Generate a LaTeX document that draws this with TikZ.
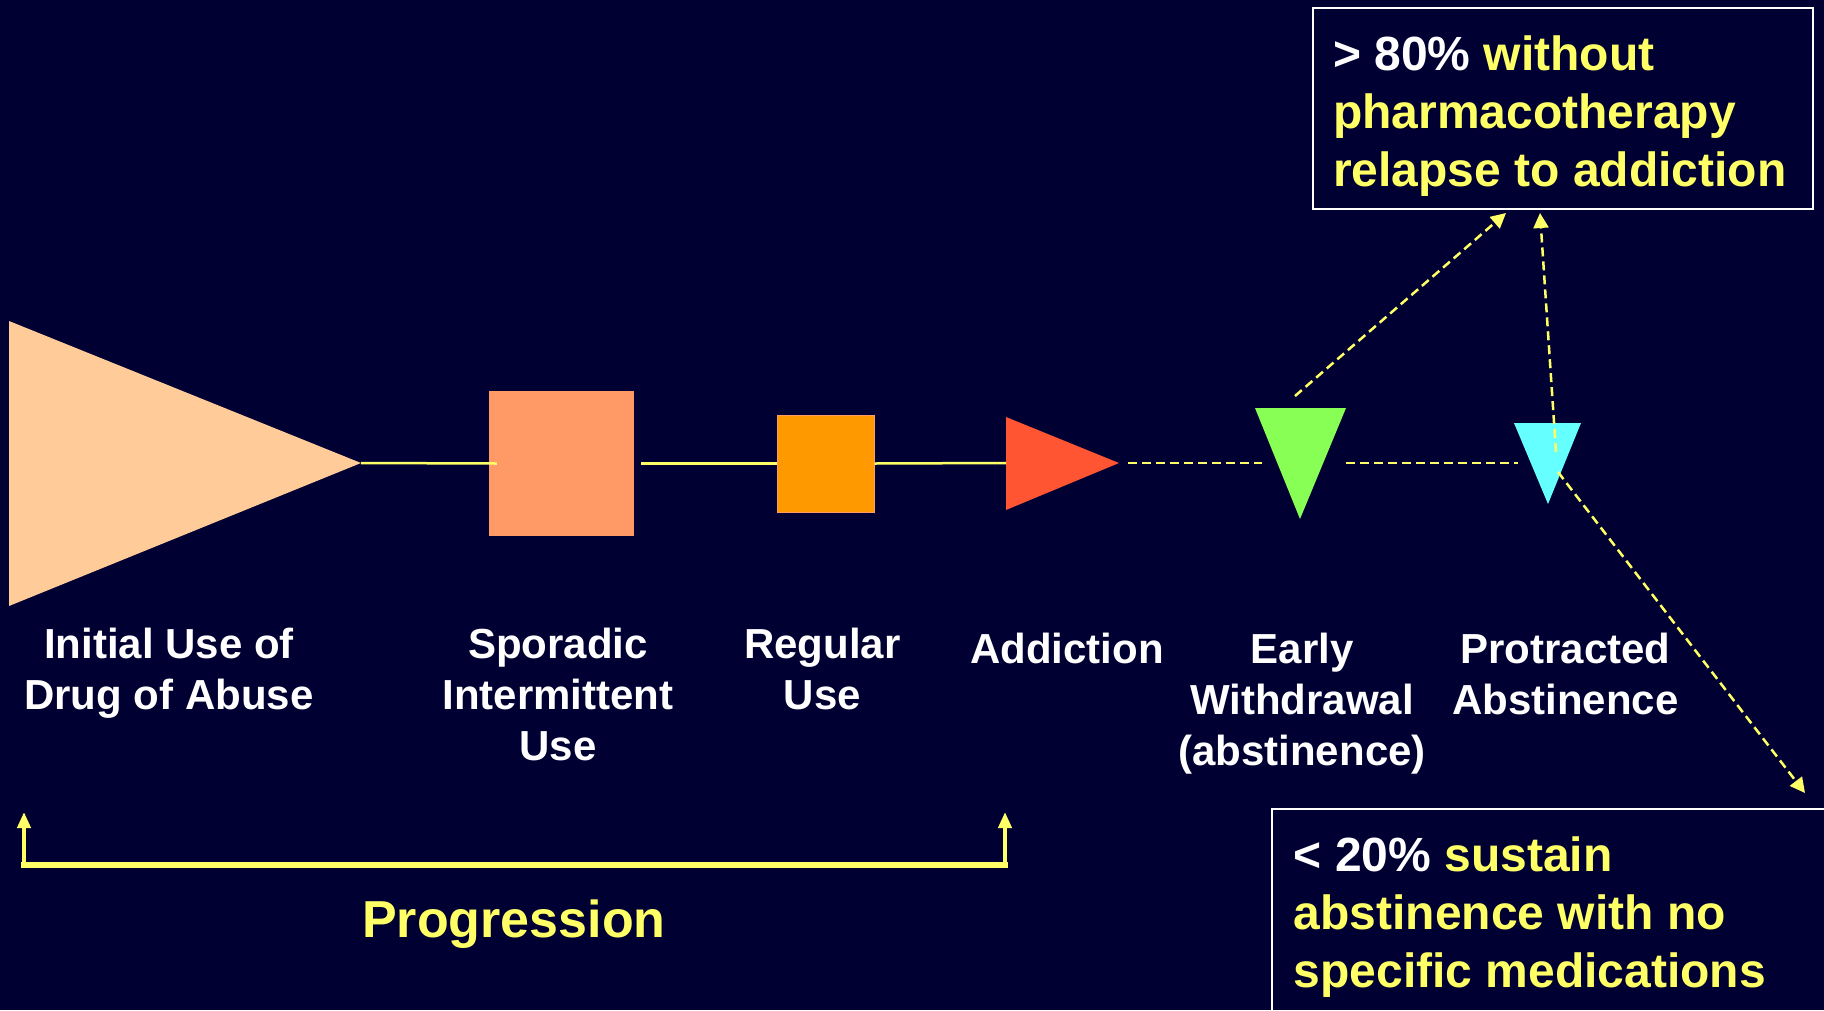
\documentclass[tikz,border=0pt]{standalone}
\usepackage{fontspec}
\setmainfont{Liberation Sans}
\usetikzlibrary{arrows.meta}
\definecolor{bg}{HTML}{000033}
\definecolor{ylw}{HTML}{FFFF66}
\definecolor{peach}{HTML}{FFCC99}
\definecolor{salmon}{HTML}{FF9966}
\definecolor{orng}{HTML}{FF9900}
\definecolor{redor}{HTML}{FF5533}
\definecolor{lgreen}{HTML}{88FF55}
\definecolor{lcyan}{HTML}{66FFFF}
\begin{document}
\begin{tikzpicture}[x=1pt,y=-1pt,
  lbl/.style={text=white, font=\bfseries\fontsize{42}{51}\selectfont, align=center, anchor=north, inner sep=0pt},
  boxtxt/.style={text=ylw, font=\bfseries\fontsize{48}{58}\selectfont, align=left, anchor=north west, inner sep=0pt},
  infobox/.style={draw=white, line width=2pt, anchor=north west, inner sep=0pt},
  sqbox/.style={inner sep=0pt, anchor=center},
  link/.style={draw=ylw, line width=2.5pt},
  dlink/.style={link, dash pattern=on 9pt off 5pt},
  darrow/.style={dlink, -{Triangle[length=15pt,width=15pt]}},
  brk/.style={draw=ylw, line width=6pt, line cap=rect},
  brkarrow/.style={draw=ylw, line width=4pt, -{Triangle[length=16pt,width=13pt]}}
]
\fill[bg] (0,0) rectangle (1824,1010);
\useasboundingbox (0,0) rectangle (1824,1010);

% ---- shapes ----
\coordinate (initA) at (9,321);
\coordinate (initB) at (9,606);
\coordinate (initTip) at (361,463);
\fill[peach] (initA) -- (initTip) -- (initB) -- cycle;

\node[sqbox, fill=salmon, minimum width=145pt, minimum height=145pt] (spor) at (561.5,463.5) {};
\node[sqbox, fill=orng, draw=salmon, line width=1pt, minimum width=97pt, minimum height=97pt] (reg) at (825.5,463.5) {};

\coordinate (addA) at (1006,417);
\coordinate (addB) at (1006,510);
\coordinate (addTip) at (1119,463);
\fill[redor] (addA) -- (addTip) -- (addB) -- cycle;

\coordinate (ewA) at (1255,408);
\coordinate (ewB) at (1346,408);
\coordinate (ewTip) at (1300,519);
\fill[lgreen] (ewA) -- (ewB) -- (ewTip) -- cycle;

\coordinate (paA) at (1514,423);
\coordinate (paB) at (1581,423);
\coordinate (paTip) at (1548,504);
\fill[lcyan] (paA) -- (paB) -- (paTip) -- cycle;

% ---- connectors on the axis ----
\coordinate (addL) at (1006,463);
\coordinate (addR) at (1128,463);
\coordinate (ewL) at (1262,463);
\coordinate (ewR) at (1346,463);
\coordinate (paL) at (1518,463);
\draw[link] (initTip) -- ([xshift=8pt]spor.west);
\draw[link] ([xshift=7pt]spor.east) -- (reg.west);
\draw[link] (reg.east) -- (addL);
\draw[dlink] (addR) -- (ewL);
\draw[dlink] (ewR) -- (paL);

% ---- boxes ----
\node[infobox, minimum width=500pt, minimum height=201pt] (topbox) at (1312,7) {};
\node[boxtxt] (toptxt) at (1333,33) {\rule{0pt}{37pt}\textcolor{white}{> 80\%} without\\pharmacotherapy\\relapse to addiction};

\node[infobox, minimum width=570pt, minimum height=220pt] (botbox) at (1271,808) {};
\node[boxtxt] (bottxt) at (1293.5,834) {\rule{0pt}{37pt}\textcolor{white}{< 20\%} sustain\\abstinence with no\\specific medications};

% ---- dashed arrows ----
\coordinate (ewTop) at (1295,396);
\coordinate (relA) at (1506,213);
\coordinate (paIn) at (1556,452);
\coordinate (relB) at (1540,213);
\coordinate (paIn2) at (1558,472);
\coordinate (susTip) at (1805,793);
\draw[darrow] (ewTop) -- (relA);
\draw[darrow] (paIn) -- (relB);
\draw[darrow] (paIn2) -- (susTip);

% ---- labels ----
\node[lbl] (initlbl) at (169,625) {\rule{0pt}{33pt}Initial Use of\\Drug of Abuse};
\node[lbl] (sporlbl) at (558,625) {\rule{0pt}{33pt}Sporadic\\Intermittent\\Use};
\node[lbl] (reglbl) at (822.5,625) {\rule{0pt}{33pt}Regular\\Use};
\node[lbl] (addlbl) at (1067,630) {\rule{0pt}{33pt}Addiction};
\node[lbl] (ewlbl) at (1302,630) {\rule{0pt}{33pt}Early\\Withdrawal\\(abstinence)};
\node[lbl] (palbl) at (1565.5,630) {\rule{0pt}{33pt}Protracted\\Abstinence};

% ---- progression bracket ----
\coordinate (brL) at (24,865);
\coordinate (brR) at (1005,865);
\coordinate (brLt) at (24,812);
\coordinate (brRt) at (1005,812);
\draw[brk] (brL) -- (brR);
\draw[brkarrow] (brL) -- (brLt);
\draw[brkarrow] (brR) -- (brRt);
\node[text=ylw, font=\bfseries\fontsize{52}{62}\selectfont, anchor=base, inner sep=0pt] (prog) at (514,937) {Progression};
\end{tikzpicture}
\end{document}
